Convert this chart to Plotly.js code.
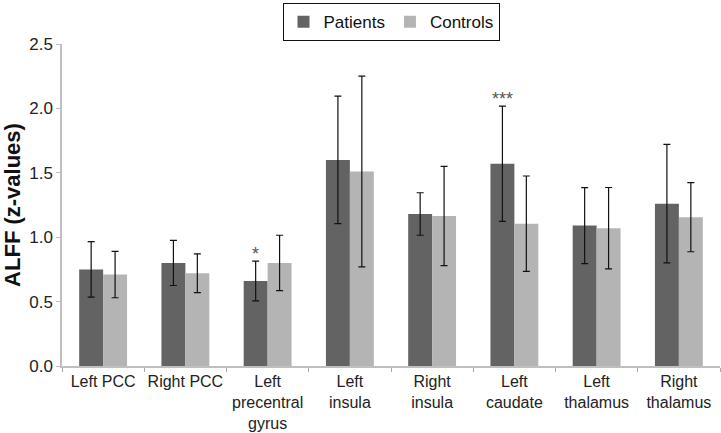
<html>
<head>
    <script src="https://cdn.plot.ly/plotly-3.0.1.min.js"></script>
    <style>
        body { margin: 0; padding: 0; background: white; }
        #chart { width: 721px; height: 433px; }
    </style>
</head>
<body>
    <div id="chart"></div>
    <script>
        // regions of interest
        const regions = ['Left PCC', 'Right PCC', 'Left<br>precentral<br>gyrus', 'Left<br>insula',
            'Right<br>insula', 'Left<br>caudate', 'Left<br>thalamus', 'Right<br>thalamus'];

        // mean ALFF z-values and SD
        const patients = [0.75, 0.80, 0.66, 1.60, 1.18, 1.57, 1.09, 1.26];
        const patientsSD = [0.215, 0.175, 0.155, 0.495, 0.165, 0.447, 0.295, 0.46];
        const controls = [0.71, 0.72, 0.80, 1.51, 1.165, 1.105, 1.07, 1.155];
        const controlsSD = [0.18, 0.15, 0.215, 0.74, 0.385, 0.37, 0.316, 0.268];

        // significance marks (patients vs controls)
        const significance = ['', '', '*', '', '', '***', '', ''];

        const sans = 'Liberation Sans, Arial, sans-serif';
        const errStyle = { thickness: 1.2, width: 3.5, color: '#111' };

        const tracePatients = {
            x: regions, y: patients, name: 'Patients', type: 'bar',
            marker: { color: '#636363' },
            error_y: Object.assign({ type: 'data', array: patientsSD, visible: true }, errStyle)
        };
        const traceControls = {
            x: regions, y: controls, name: 'Controls', type: 'bar',
            marker: { color: '#b4b4b4' },
            error_y: Object.assign({ type: 'data', array: controlsSD, visible: true }, errStyle)
        };

        const annotations = [];
        significance.forEach((s, i) => {
            if (!s) return;
            annotations.push({
                x: i, y: patients[i] + patientsSD[i], xref: 'x', yref: 'y',
                text: s, showarrow: false, xshift: -12, yanchor: 'bottom', yshift: -5,
                font: { family: sans, size: 18, color: '#555' }
            });
        });

        const layout = {
            width: 721, height: 433,
            margin: { l: 62, r: 1, t: 44, b: 67 },
            barmode: 'group', bargap: 0.418, bargroupgap: 0,
            font: { family: sans, size: 16, color: '#222' },
            plot_bgcolor: 'white', paper_bgcolor: 'white',
            xaxis: {
                type: 'category', tickson: 'boundaries', ticks: 'outside', ticklen: 4,
                tickcolor: '#aaa', showline: true, linecolor: '#bfbfbf', linewidth: 1.5,
                tickangle: 0, automargin: false,
                tickfont: { family: sans, size: 16, color: '#222' }
            },
            yaxis: {
                range: [0, 2.5], dtick: 0.5, tickformat: '.1f', showgrid: false,
                zeroline: false, showline: true, linecolor: '#bfbfbf', linewidth: 1.5,
                ticks: 'outside', ticklen: 4, tickcolor: '#bfbfbf',
                tickfont: { family: sans, size: 17, color: '#222' },
                title: {
                    text: '<b>ALFF (z-values)</b>', standoff: 8,
                    font: { family: sans, size: 22, color: '#111' }
                }
            },
            legend: {
                orientation: 'h', x: 0.5, xanchor: 'center', y: 1.127, yanchor: 'top',
                bordercolor: '#111', borderwidth: 1, bgcolor: 'white',
                font: { family: sans, size: 17, color: '#111' }
            },
            annotations: annotations,
            showlegend: true
        };

        Plotly.newPlot('chart', [tracePatients, traceControls], layout, { displayModeBar: false });
    </script>
</body>
</html>
